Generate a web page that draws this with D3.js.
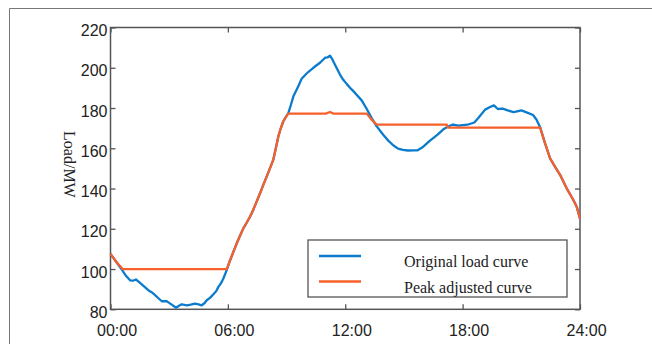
<!DOCTYPE html>
<html>
<head>
<meta charset="utf-8">
<script src="https://cdn.jsdelivr.net/npm/d3@7"></script>
<style>
  html, body { margin: 0; padding: 0; background: #fff; }
  svg { display: block; }
</style>
</head>
<body>
<svg id="chart" width="652" height="344"></svg>
<script>
// Original daily load curve (hour of day, MW)
const loadHours = [0, 0.3, 0.57, 0.8, 1.0, 1.15, 1.3, 1.45, 1.7, 1.93, 2.1, 2.28, 2.45, 2.62, 2.87, 3.0, 3.13, 3.35, 3.5, 3.64, 3.9, 4.1, 4.32, 4.5, 4.66, 4.8, 4.92, 5.1, 5.26, 5.4, 5.51, 5.65, 5.77, 5.94,
  6.1, 6.28, 6.45, 6.62, 6.79, 6.96, 7.13, 7.3, 7.47, 7.64, 7.81, 8.07, 8.32, 8.45, 8.58, 8.7, 8.83, 8.96, 9.09, 9.22, 9.35, 9.6, 9.77, 9.94, 10.12, 10.29, 10.5, 10.71, 10.97, 11.1, 11.22, 11.35, 11.47, 11.73, 11.9,
  12.07, 12.3, 12.5, 12.84, 13.1, 13.35, 13.61, 13.94, 14.2, 14.45, 14.7, 14.95, 15.2, 15.5, 15.7, 15.95, 16.3, 16.72, 17.0, 17.25, 17.5, 17.8,
  18.0, 18.25, 18.6, 18.8, 19.15, 19.4, 19.6, 19.8, 20.05, 20.3, 20.6, 20.85, 21.0, 21.3, 21.6, 21.78, 21.96, 22.21, 22.47, 22.72, 22.98, 23.32, 23.66, 23.83, 24];
const loadValues = [107.5, 103.5, 99.8, 96.5, 94.4, 94.2, 94.8, 93.6, 91.5, 89.5, 88.5, 87, 85.5, 84, 84, 83.2, 82.3, 80.8, 81.8, 82.5, 82, 82.3, 82.8, 82.4, 82, 83, 84.5, 85.8, 87.5, 89, 91, 93, 95.3, 99.5,
  104, 108.5, 112.7, 116.5, 120.2, 123, 126, 129.5, 133.5, 137.5, 141.8, 148, 154.2, 160, 165.9, 169.8, 173.3, 175.5, 177.5, 181.5, 185.8, 190.8, 194.5, 196.3, 198, 199.3, 201, 202.5, 205, 205.2, 206, 204, 201.6, 196.6, 194,
  192, 189.5, 187.5, 183.8, 179.5, 175, 170.9, 166.7, 163.8, 161.5, 159.8, 159.2, 158.9, 159, 159, 160.5, 163.5, 166.8, 169.3, 170.8, 171.8, 171.2,
  171.5, 171.7, 172.8, 175, 179.2, 180.5, 181.3, 179.5, 179.7, 178.8, 178, 178.5, 178.8, 177.7, 176.5, 174.2, 170.5, 162.6, 155, 150.9, 146.8, 140.1, 134.3, 131, 125];

// Load curve after peak shaving / valley filling
const adjustedHours = [0, 0.3, 0.62, 5.94, 6.1, 6.28, 6.45, 6.62, 6.79, 6.96, 7.13, 7.3, 7.47, 7.64, 7.81, 8.07, 8.32, 8.45, 8.58, 8.7, 8.83, 8.96, 9.09,
  11.0, 11.22, 11.4, 13.1, 13.35, 13.61, 17.19, 17.25, 21.96, 22.21, 22.47, 22.72, 22.98, 23.32, 23.66, 23.83, 24];
const adjustedValues = [107.5, 103.5, 100, 100, 104, 108.5, 112.7, 116.5, 120.2, 123, 126, 129.5, 133.5, 137.5, 141.8, 148, 154.2, 160, 165.9, 169.8, 173.3, 175.5, 177.2,
  177.2, 178, 177.2, 177.2, 174.2, 171.7, 171.7, 170.3, 170.3, 162.6, 155, 150.9, 146.8, 140.1, 134.3, 131, 125];

const xTickHours = [0, 6, 12, 18, 24];
const xTickLabels = ["00:00", "06:00", "12:00", "18:00", "24:00"];
const yTicks = [80, 100, 120, 140, 160, 180, 200, 220];
const seriesNames = ["Original load curve", "Peak adjusted curve"];
const seriesColors = ["#0b7ccd", "#f7602a"];

const svg = d3.select("#chart");
const plotLeft = 110.5, plotRight = 580, plotTop = 27.5, plotBottom = 309.3;

const x = d3.scaleLinear().domain([0, 24]).range([plotLeft, plotRight]);
const y = d3.scaleLinear().domain([80, 220]).range([plotBottom, plotTop]);

// outer frame
svg.append("path")
  .attr("d", "M9.5,344 L9.5,8.5 L652,8.5")
  .attr("fill", "none").attr("stroke", "#777").attr("stroke-width", 1);

const axisColor = "#555";
const tickFont = "Liberation Sans, Arial, sans-serif";

// bottom axis with inward ticks
const xAxis = svg.append("g").attr("transform", `translate(0,${plotBottom})`)
  .call(d3.axisBottom(x).tickValues(xTickHours).tickSizeInner(-5).tickSizeOuter(0)
    .tickFormat((d, i) => xTickLabels[i]));
xAxis.select(".domain").remove();
xAxis.selectAll("line").attr("stroke", axisColor).attr("stroke-width", 1.3);
xAxis.selectAll("text").attr("font-family", tickFont).attr("font-size", 16)
  .attr("fill", "#222").attr("dy", 0).attr("y", 27).attr("dx", 6);

// top axis ticks
const xTop = svg.append("g").attr("transform", `translate(0,${plotTop})`)
  .call(d3.axisTop(x).tickValues(xTickHours).tickSizeInner(-5).tickSizeOuter(0).tickFormat(""));
xTop.select(".domain").remove();
xTop.selectAll("line").attr("stroke", axisColor).attr("stroke-width", 1.3);

// left axis
const yAxis = svg.append("g").attr("transform", `translate(${plotLeft},0)`)
  .call(d3.axisLeft(y).tickValues(yTicks).tickSizeInner(-5).tickSizeOuter(0));
yAxis.select(".domain").remove();
yAxis.selectAll("line").attr("stroke", axisColor).attr("stroke-width", 1.3);
yAxis.selectAll("text").attr("font-family", tickFont).attr("font-size", 16)
  .attr("fill", "#222").attr("x", -3).attr("dy", "0.5em");

// right axis ticks
const yRight = svg.append("g").attr("transform", `translate(${plotRight},0)`)
  .call(d3.axisRight(y).tickValues(yTicks).tickSizeInner(-5).tickSizeOuter(0).tickFormat(""));
yRight.select(".domain").remove();
yRight.selectAll("line").attr("stroke", axisColor).attr("stroke-width", 1.3);

// plot box
svg.append("rect")
  .attr("x", plotLeft).attr("y", plotTop)
  .attr("width", plotRight - plotLeft).attr("height", plotBottom - plotTop)
  .attr("fill", "none").attr("stroke", axisColor).attr("stroke-width", 1.5);

// y axis title
svg.append("text")
  .attr("transform", `translate(64,${(plotTop + plotBottom) / 2 - 4}) rotate(90)`)
  .attr("text-anchor", "middle")
  .attr("font-family", "Liberation Serif, Times New Roman, serif")
  .attr("font-size", 16).attr("fill", "#222")
  .text("Load/MW");

// curves
const line = d3.line().x(d => x(d[0])).y(d => y(d[1]));
const original = d3.zip(loadHours, loadValues);
const adjusted = d3.zip(adjustedHours, adjustedValues);

svg.append("path").datum(original)
  .attr("d", line).attr("fill", "none")
  .attr("stroke", seriesColors[0]).attr("stroke-width", 2.3).attr("stroke-linejoin", "round");
svg.append("path").datum(adjusted)
  .attr("d", line).attr("fill", "none")
  .attr("stroke", seriesColors[1]).attr("stroke-width", 2.3).attr("stroke-linejoin", "round");

// legend
const legend = svg.append("g");
legend.append("rect")
  .attr("x", 308).attr("y", 240).attr("width", 259).attr("height", 57)
  .attr("fill", "#fff").attr("stroke", "#555").attr("stroke-width", 1.3);
const legendRows = [256, 281.5];
seriesNames.forEach((name, i) => {
  legend.append("line")
    .attr("x1", 319).attr("x2", 361).attr("y1", legendRows[i]).attr("y2", legendRows[i])
    .attr("stroke", seriesColors[i]).attr("stroke-width", 2.5);
  legend.append("text")
    .attr("x", 404).attr("y", legendRows[i] + 11)
    .attr("font-family", "Liberation Serif, Times New Roman, serif")
    .attr("font-size", 16).attr("fill", "#222")
    .text(name);
});
</script>
</body>
</html>
